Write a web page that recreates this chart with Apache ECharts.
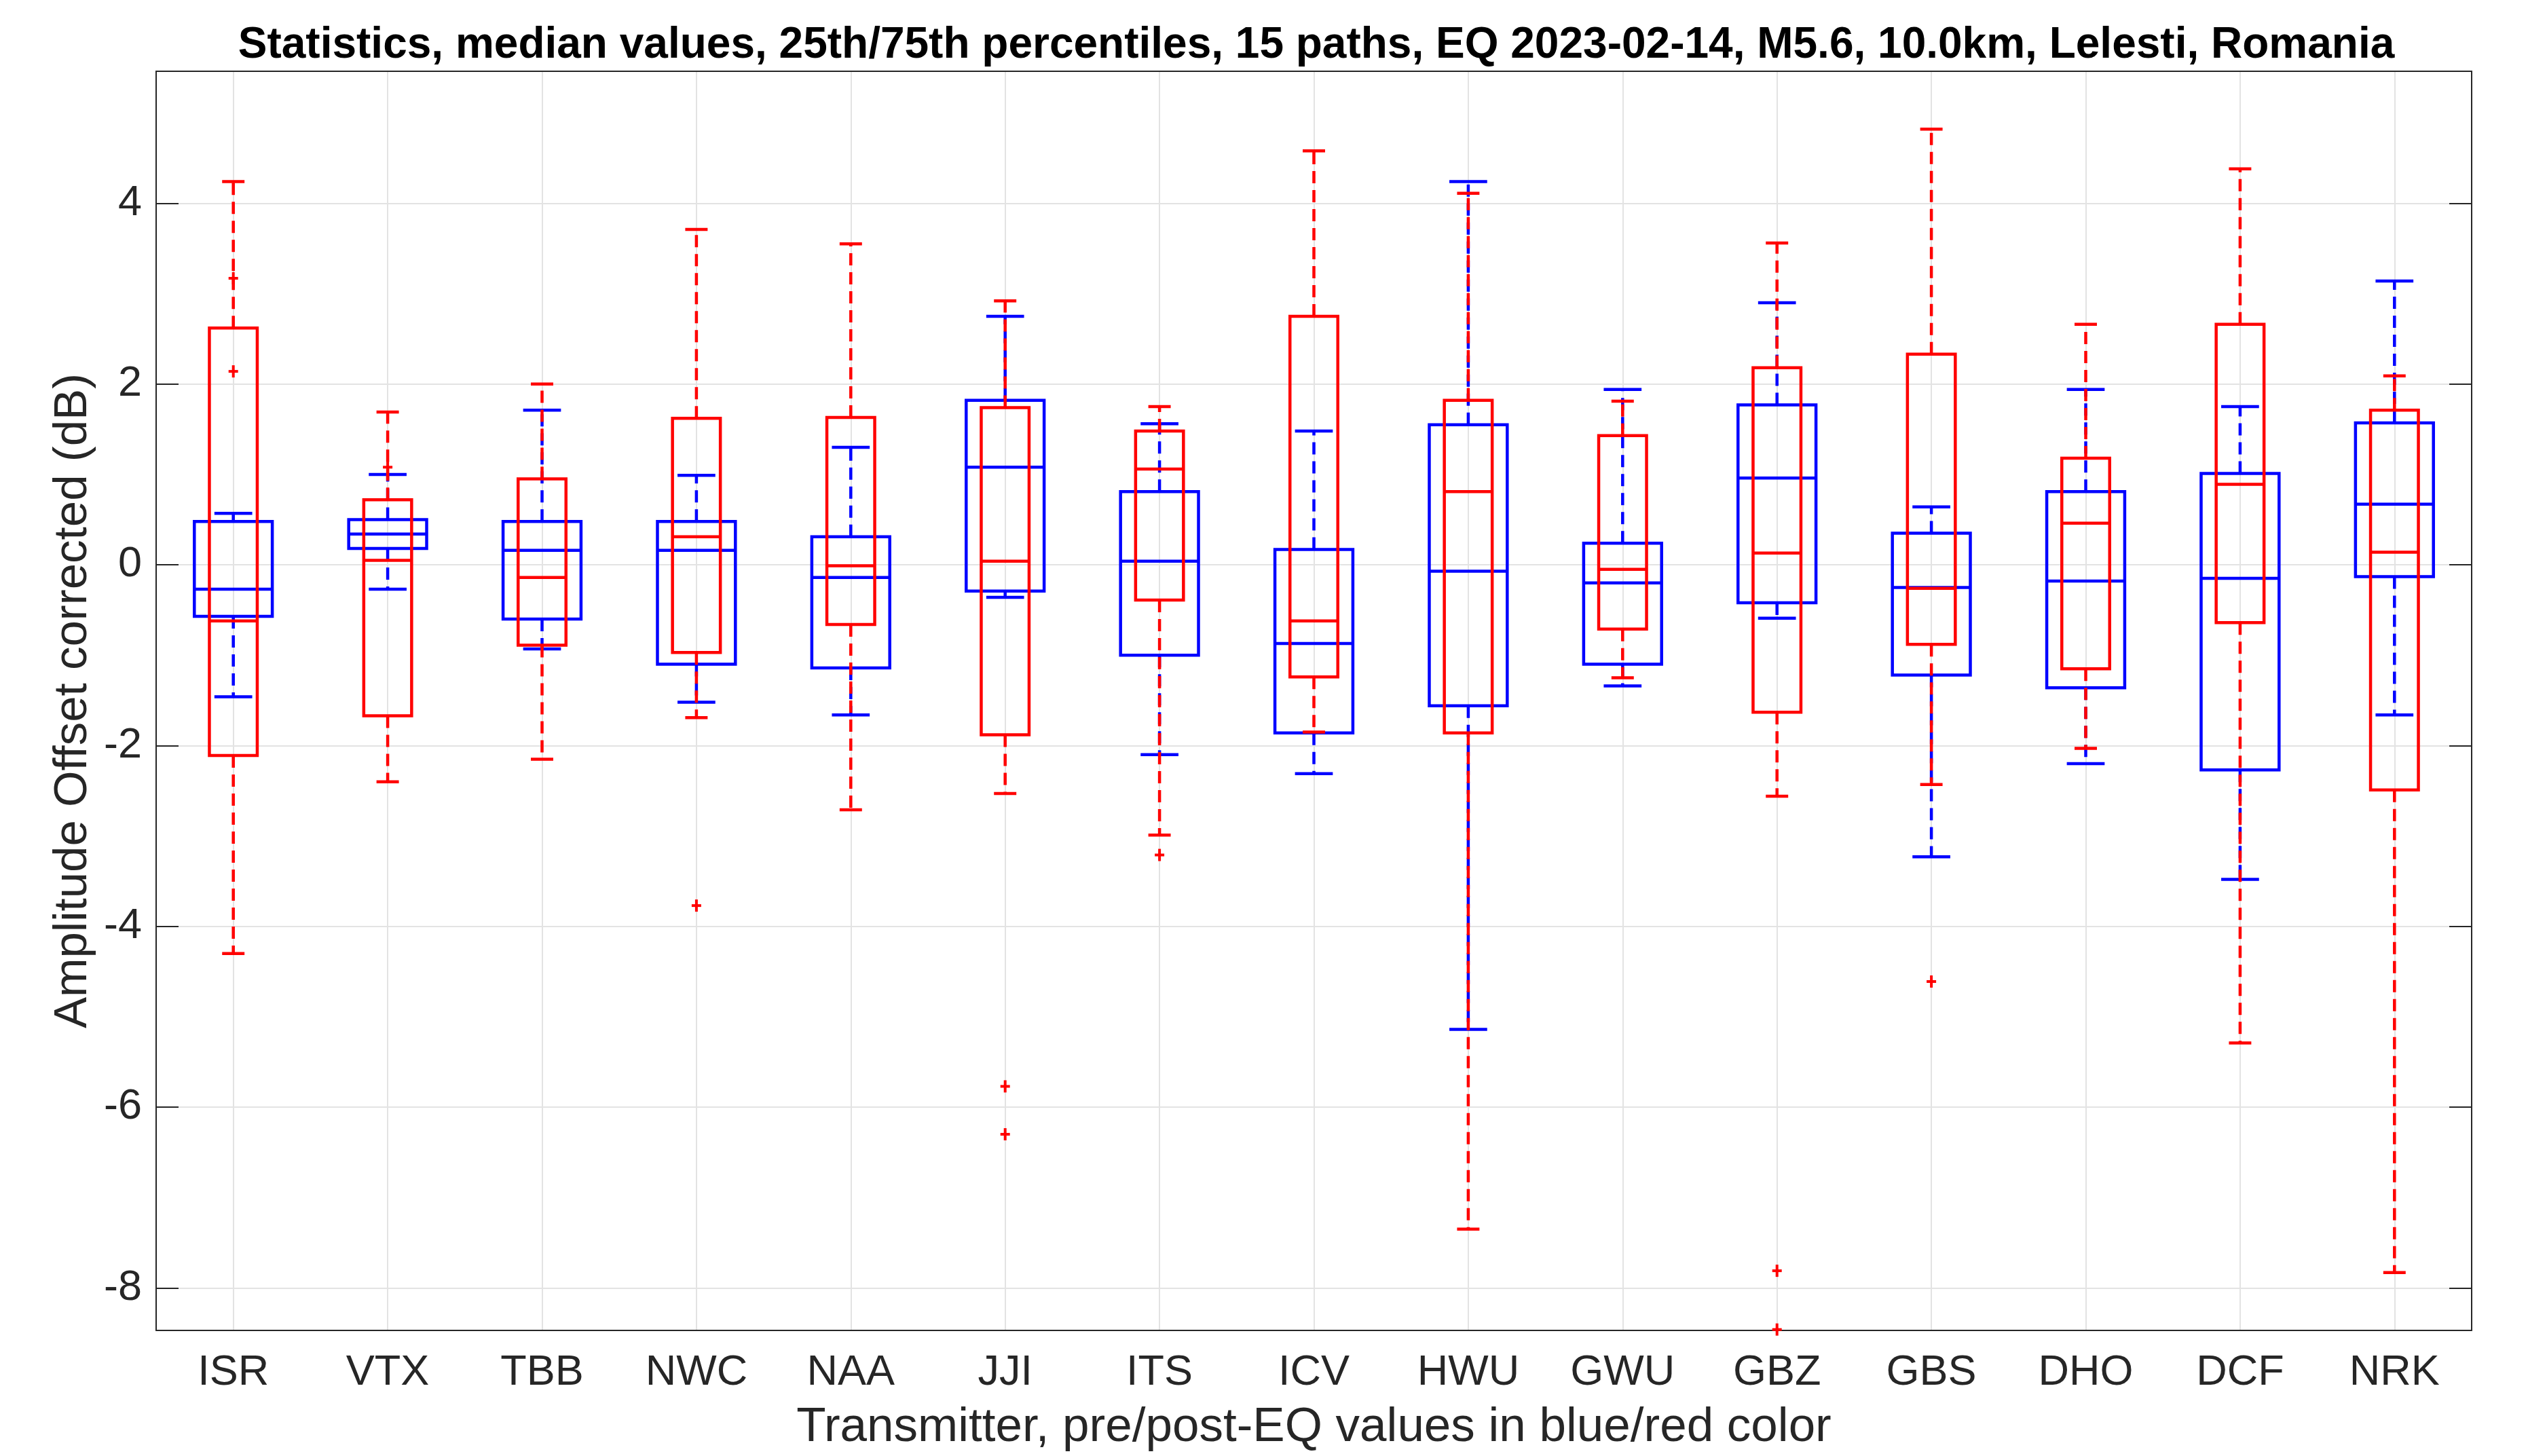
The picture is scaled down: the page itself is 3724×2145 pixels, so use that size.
<!DOCTYPE html>
<html lang="en">
<head>
    <meta charset="UTF-8">
    <title>Statistics, median values</title>
    <script src="https://cdn.jsdelivr.net/npm/echarts@6.0.0/dist/echarts.min.js"></script>
    <style>
        body { margin: 0; background: #fff; }
    </style>
</head>
<body>
<div id="main" style="width: 3724px;height:2145px;"></div>
</body>
<script type="text/javascript">

    var transmitters = ['ISR', 'VTX', 'TBB', 'NWC', 'NAA', 'JJI', 'ITS', 'ICV', 'HWU', 'GWU', 'GBZ', 'GBS', 'DHO', 'DCF', 'NRK'];

    // pre-EQ (blue)
    var preLow    = [-1.46, -0.27, -0.93, -1.52, -1.66, -0.36, -2.10, -2.31, -5.14, -1.34, -0.59, -3.23, -2.20, -3.48, -1.66];
    var preQ1     = [-0.57,  0.18, -0.60, -1.10, -1.14, -0.29, -1.00, -1.86, -1.56, -1.10, -0.42, -1.22, -1.36, -2.27, -0.13];
    var preMedian = [-0.27,  0.34,  0.16,  0.16, -0.14,  1.08,  0.04, -0.87, -0.07, -0.20,  0.96, -0.25, -0.18, -0.15,  0.67];
    var preQ3     = [ 0.48,  0.50,  0.48,  0.48,  0.31,  1.82,  0.81,  0.17,  1.55,  0.24,  1.77,  0.35,  0.81,  1.01,  1.57];
    var preHigh   = [ 0.57,  1.00,  1.71,  0.99,  1.30,  2.75,  1.56,  1.48,  4.24,  1.94,  2.90,  0.64,  1.94,  1.75,  3.14];

    // post-EQ (red)
    var postLow    = [-4.30, -2.40, -2.15, -1.69, -2.71, -2.53, -2.99, -1.85, -7.35, -1.25, -2.56, -2.43, -2.03, -5.29, -7.83];
    var postQ1     = [-2.11, -1.67, -0.89, -0.97, -0.66, -1.88, -0.39, -1.24, -1.86, -0.71, -1.63, -0.88, -1.15, -0.64, -2.49];
    var postMedian = [-0.62,  0.05, -0.14,  0.31, -0.01,  0.04,  1.06, -0.62,  0.81, -0.05,  0.13, -0.26,  0.46,  0.89,  0.14];
    var postQ3     = [ 2.62,  0.72,  0.95,  1.62,  1.63,  1.74,  1.48,  2.75,  1.82,  1.43,  2.18,  2.33,  1.18,  2.66,  1.71];
    var postHigh   = [ 4.24,  1.69,  2.00,  3.71,  3.55,  2.92,  1.75,  4.58,  4.11,  1.81,  3.56,  4.82,  2.66,  4.38,  2.09];

    // post-EQ outliers: [transmitter, value]
    var postOutliers = [
        ['ISR', 3.17], ['ISR', 2.14], ['VTX', 1.08], ['NWC', -3.77],
        ['JJI', -5.77], ['JJI', -6.30], ['ITS', -3.21],
        ['GBZ', -7.81], ['GBZ', -8.46], ['GBS', -4.61]
    ];

    var yTicks = [-8, -6, -4, -2, 0, 2, 4];

    var axisColor = '#262626';
    var gridColor = '#e3e3e3';
    var fontFamily = '"Liberation Sans", Arial, Helvetica, sans-serif';
    var lw = 4.5;

    function boxRows(lo, q1, md, q3, hi) {
        return transmitters.map(function (t, i) {
            return [i, lo[i], q1[i], md[i], q3[i], hi[i]];
        });
    }

    function boxRenderer(color, boxFrac, capFrac) {
        return function (params, api) {
            var x = api.value(0);
            var lo = api.coord([x, api.value(1)]);
            var q1 = api.coord([x, api.value(2)]);
            var md = api.coord([x, api.value(3)]);
            var q3 = api.coord([x, api.value(4)]);
            var hi = api.coord([x, api.value(5)]);
            var band = api.size([1, 0])[0];
            var bw = band * boxFrac / 2;
            var cw = band * capFrac / 2;
            var cx = md[0];
            var solid = { stroke: color, lineWidth: lw, fill: null };
            var dash = { stroke: color, lineWidth: lw, lineDash: [18, 10] };
            return {
                type: 'group',
                children: [
                    { type: 'line', shape: { x1: cx, y1: q3[1], x2: cx, y2: hi[1] }, style: dash },
                    { type: 'line', shape: { x1: cx, y1: q1[1], x2: cx, y2: lo[1] }, style: dash },
                    { type: 'line', shape: { x1: cx - cw, y1: hi[1], x2: cx + cw, y2: hi[1] }, style: solid },
                    { type: 'line', shape: { x1: cx - cw, y1: lo[1], x2: cx + cw, y2: lo[1] }, style: solid },
                    { type: 'rect', shape: { x: cx - bw, y: q3[1], width: 2 * bw, height: q1[1] - q3[1] },
                      style: { stroke: color, lineWidth: lw, fill: 'none' } },
                    { type: 'line', shape: { x1: cx - bw, y1: md[1], x2: cx + bw, y2: md[1] }, style: solid }
                ]
            };
        };
    }

    function plusRenderer(color) {
        return function (params, api) {
            var p = api.coord([api.value(0), api.value(1)]);
            var st = { stroke: color, lineWidth: 4 };
            return {
                type: 'group',
                children: [
                    { type: 'line', shape: { x1: p[0] - 7, y1: p[1], x2: p[0] + 7, y2: p[1] }, style: st },
                    { type: 'line', shape: { x1: p[0], y1: p[1] - 9, x2: p[0], y2: p[1] + 9 }, style: st }
                ]
            };
        };
    }

    var myChart = echarts.init(document.getElementById('main'));

    var option = {
        backgroundColor: '#fff',
        animation: false,
        title: {
            text: 'Statistics, median values, 25th/75th percentiles, 15 paths, EQ 2023-02-14, M5.6, 10.0km, Lelesti, Romania',
            left: 1934,
            top: 30,
            textAlign: 'center',
            textStyle: { fontFamily: fontFamily, fontSize: 64, fontWeight: 'bold', color: '#000' }
        },
        grid: { left: 230, right: 83, top: 105, bottom: 185, containLabel: false },
        xAxis: [
            {
                type: 'category',
                data: transmitters,
                position: 'bottom',
                boundaryGap: true,
                name: 'Transmitter, pre/post-EQ values in blue/red color',
                nameLocation: 'middle',
                nameGap: 108,
                nameTextStyle: { fontFamily: fontFamily, fontSize: 71, color: axisColor },
                axisLine: { onZero: false, lineStyle: { color: axisColor, width: 2 } },
                axisTick: { inside: true, length: 33, alignWithLabel: true, lineStyle: { color: axisColor, width: 2 } },
                axisLabel: { margin: 31, fontFamily: fontFamily, fontSize: 63, color: axisColor, interval: 0 },
                splitLine: { show: true, alignWithLabel: true, lineStyle: { color: gridColor, width: 2 } }
            },
            {
                type: 'category',
                data: transmitters,
                position: 'top',
                boundaryGap: true,
                axisLine: { onZero: false, lineStyle: { color: axisColor, width: 2 } },
                axisTick: { inside: true, length: 33, alignWithLabel: true, lineStyle: { color: axisColor, width: 2 } },
                axisLabel: { show: false },
                splitLine: { show: false }
            }
        ],
        yAxis: [
            {
                type: 'value',
                min: -8.47,
                max: 5.46,
                position: 'left',
                name: 'Amplitude Offset corrected (dB)',
                nameLocation: 'middle',
                nameGap: 80,
                nameTextStyle: { fontFamily: fontFamily, fontSize: 69, color: axisColor },
                axisLine: { show: true, onZero: false, lineStyle: { color: axisColor, width: 2 } },
                axisTick: { show: true, inside: true, length: 33, customValues: yTicks, lineStyle: { color: axisColor, width: 2 } },
                axisLabel: { margin: 21, fontFamily: fontFamily, fontSize: 63, color: axisColor, customValues: yTicks },
                splitLine: { show: true, lineStyle: { color: gridColor, width: 2 } }
            },
            {
                type: 'value',
                min: -8.47,
                max: 5.46,
                position: 'right',
                axisLine: { show: true, onZero: false, lineStyle: { color: axisColor, width: 2 } },
                axisTick: { show: true, inside: true, length: 33, customValues: yTicks, lineStyle: { color: axisColor, width: 2 } },
                axisLabel: { show: false },
                splitLine: { show: false }
            }
        ],
        series: [
            {
                name: 'pre-EQ',
                type: 'custom',
                renderItem: boxRenderer('#0000ff', 0.505, 0.245),
                encode: { x: 0, y: [1, 2, 3, 4, 5] },
                data: boxRows(preLow, preQ1, preMedian, preQ3, preHigh),
                z: 3
            },
            {
                name: 'post-EQ',
                type: 'custom',
                renderItem: boxRenderer('#ff0000', 0.31, 0.145),
                encode: { x: 0, y: [1, 2, 3, 4, 5] },
                data: boxRows(postLow, postQ1, postMedian, postQ3, postHigh),
                z: 4
            },
            {
                name: 'post-EQ outliers',
                type: 'custom',
                renderItem: plusRenderer('#ff0000'),
                encode: { x: 0, y: 1 },
                data: postOutliers.map(function (o) { return [transmitters.indexOf(o[0]), o[1]]; }),
                z: 5
            }
        ]
    };
    myChart.setOption(option);

</script>
</html>
